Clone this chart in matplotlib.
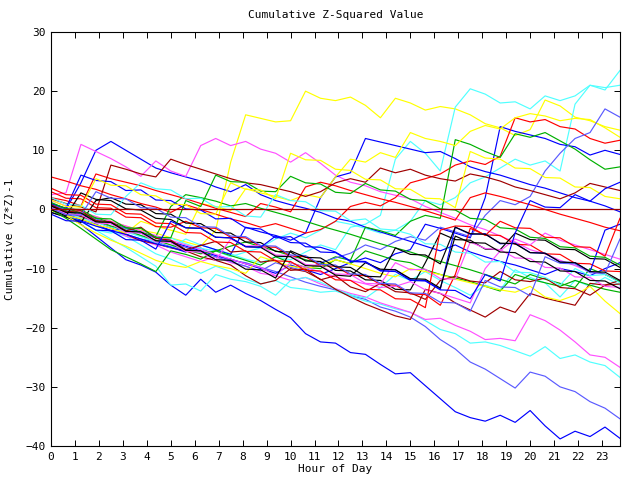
import numpy as np
import matplotlib
matplotlib.use('Agg')
import matplotlib.pyplot as plt

plt.rcParams['font.family'] = ['DejaVu Sans Mono']

# one point every 37.5 minutes, 0h .. 23.75h
hours = np.linspace(0, 23.75, 39)

# gnuplot-ish palette
RED, GREEN, BLUE, MAG, CYAN = '#ff0000', '#00b000', '#0000ff', '#ff50ff', '#50ffff'
DRED, YEL, BLK, MBLUE = '#a00000', '#ffff00', '#000000', '#5a5aff'

days = [
    (BLUE, [0, -1.0, -2.5, -4.5, -6.5, -8.5, -9.4, -10.6, -12.8, -14.5, -11.8, -14.0, -12.8, -14.2, -15.4, -16.9,
            -18.3, -21.0, -22.4, -22.6, -24.2, -24.5, -26.2, -27.8, -27.6, -29.8, -32.0, -34.2, -35.2, -35.8,
            -34.8, -36.0, -34.0, -36.6, -38.8, -37.5, -38.4, -36.8, -38.7]),
    (MBLUE, [0, -0.8, -1.5, -2.8, -3.5, -4.2, -5.0, -5.5, -6.3, -7.0, -6.5, -7.8, -8.6, -9.0, -9.8, -10.5,
             -11.4, -12.3, -13.0, -13.6, -14.6, -15.2, -16.5, -17.2, -18.2, -19.8, -22.0, -23.6, -25.8, -27.0,
             -28.6, -30.2, -27.5, -28.2, -30.0, -30.8, -32.5, -33.6, -35.4]),
    (CYAN, [0.5, -0.5, -1.5, -2.5, -3.8, -4.5, -6.0, -7.5, -8.4, -9.5, -10.8, -9.6, -10.5, -11.8, -12.6, -12.0,
            -13.2, -13.5, -14.0, -13.8, -14.6, -15.5, -16.0, -16.8, -17.4, -18.8, -20.3, -21.0, -22.6, -22.4,
            -23.0, -23.9, -24.8, -23.2, -25.2, -24.6, -25.8, -26.4, -28.4]),
    (MAG, [0.8, -0.3, -1.6, -2.0, -3.2, -4.5, -5.2, -6.0, -7.2, -8.0, -8.8, -8.0, -9.0, -9.6, -10.8, -11.2,
           -12.0, -11.5, -12.6, -13.4, -14.2, -14.8, -15.8, -16.6, -17.4, -18.6, -18.4, -19.6, -20.6, -22.0,
           -21.8, -22.2, -17.8, -18.8, -20.4, -22.4, -24.6, -25.0, -26.7]),
    (CYAN, [0.3, -0.8, -2.0, -3.5, -5.0, -6.4, -8.0, -9.6, -12.8, -12.6, -13.8, -11.0, -11.8, -12.2, -13.0, -14.5,
            -12.0, -11.5, -12.3, -13.5, -14.4, -15.0, -13.2, -11.0, -12.0, -10.5, -12.0, -13.2, -14.5, -12.8,
            -13.6, -10.2, -11.5, -12.4, -14.8, -12.0, -13.0, -11.5, -12.8]),
    (DRED, [0.5, -0.5, -1.2, -2.0, -3.0, -4.2, -5.3, -5.8, -6.5, -7.0, -8.0, -8.6, -9.4, -11.2, -12.6, -12.0,
            -10.0, -10.5, -11.8, -13.5, -14.8, -16.0, -17.0, -18.0, -18.6, -13.5, -14.2, -15.8, -17.0, -18.2,
            -16.5, -17.4, -14.2, -15.0, -15.6, -16.2, -12.5, -12.8, -12.0]),
    (YEL, [1.0, 0.2, -0.5, -1.2, -2.0, -2.8, -3.5, -4.0, -4.8, -5.5, -6.2, -3.5, 8.0, 16.0, 15.4, 14.8, 15.0,
           20.0, 18.8, 18.4, 19.0, 17.6, 15.5, 18.8, 18.0, 16.8, 17.4, 17.0, 16.0, 14.5, 13.8, 12.5, 13.5,
           18.5, 17.5, 15.6, 15.0, 14.0, 13.4]),
    (CYAN, [0.0, -1.0, -2.0, -3.5, -4.0, -3.2, -4.5, -5.6, -6.5, -5.0, -6.0, -6.8, -7.5, -8.4, -9.0, -8.0,
            -8.5, -7.2, -6.0, -6.8, -3.0, -2.5, -1.0, 8.5, 11.5, 9.5, 6.5, 17.3, 20.4, 19.5, 18.0, 18.2, 17.0,
            19.2, 18.4, 19.2, 21.0, 20.2, 23.5]),
    (CYAN, [0.5, -0.4, -1.5, -2.2, -3.0, -3.8, -4.6, -5.5, -4.8, -5.8, -6.6, -7.0, -8.0, -7.2, -6.5, -5.0,
            -4.0, -4.8, -3.5, -2.0, -2.5, -3.2, -4.0, -3.5, -2.0, 1.5, 0.8, 2.0, 4.5, 5.5, 7.0, 8.5, 7.5, 8.2,
            6.5, 17.8, 21.0, 20.6, 21.0]),
    (BLUE, [0.5, 0.0, 4.5, 10.0, 11.5, 10.0, 8.5, 7.0, 6.2, 5.5, 4.8, 3.8, 3.0, 4.2, 2.5, 1.5, 0.8, 0.2, -0.5,
            -1.5, -2.0, -3.0, -3.8, -4.6, -5.4, -6.2, -7.0, -6.0, -7.2, -8.0, -8.8, -9.4, -10.2, -11.0, -10.0,
            -10.5, -11.2, -10.0, -9.0]),
    (MAG, [2.5, 2.8, 11.0, 9.8, 8.6, 7.2, 5.6, 8.2, 6.5, 5.6, 10.8, 12.0, 10.8, 11.5, 10.2, 9.5, 8.0, 9.6, 7.8,
           5.8, 4.6, 4.0, 3.0, 2.4, 1.8, 0.5, -0.5, -1.5, -2.6, -3.4, -4.5, -5.5, -6.8, -7.5, -8.6, -9.5,
           -10.5, -11.0, -12.0]),
    (BLUE, [0.0, -0.8, -1.8, -2.5, -3.6, -4.2, -5.0, -5.8, -6.4, -7.2, -6.0, -6.8, -7.6, -3.0, -3.8, -4.4,
            -5.2, -4.0, 2.0, 5.5, 6.2, 12.0, 11.4, 10.8, 10.2, 9.6, 9.8, 8.6, 7.2, 6.4, 5.8, 5.0, 4.2, 3.6, 2.8,
            2.0, 1.4, 0.6, -0.4]),
    (BLUE, [-0.5, -1.2, -2.0, -2.8, -3.6, -3.0, -4.0, -4.8, -5.5, -6.2, -7.0, -7.8, -8.4, -9.2, -10.0, -10.8,
            -9.4, -10.2, -11.0, -10.0, -9.0, -8.2, -9.0, -7.5, -6.8, -2.5, -3.2, -4.0, -4.8, 2.0, 14.0, 13.2,
            12.6, 12.0, 11.0, 10.6, 9.2, 10.0, 9.3]),
    (RED, [5.5, 4.8, 4.0, 3.4, 2.5, 1.8, 1.0, 0.4, -0.5, 0.8, 0.0, -0.8, -1.6, -2.2, -3.0, -2.4, -3.2, -4.0,
           -3.4, -2.0, 0.5, 1.2, 0.6, 2.0, 4.5, 5.2, 6.0, 7.5, 8.2, 7.6, 9.0, 15.5, 14.8, 15.2, 14.0, 13.6,
           12.0, 11.2, 11.7]),
    (GREEN, [0.5, -0.2, -1.0, -1.8, -2.8, -3.5, -4.4, -5.2, -6.0, -6.8, -7.5, -7.0, -6.2, -5.5, -6.3, -7.0,
             -7.8, -8.5, -9.2, -8.0, -8.6, -3.0, -3.6, -4.4, -2.0, -1.0, -1.5, 11.8, 11.0, 9.8, 8.8, 12.8,
             12.2, 13.0, 11.6, 10.2, 8.4, 6.8, 7.2]),
    (YEL, [-0.2, -1.0, -1.6, -2.6, -3.2, -4.0, -2.0, -2.8, -3.5, -4.2, 1.0, 0.5, -0.2, 3.5, 2.8, 2.2, 1.5,
           2.5, 2.0, 5.5, 8.5, 8.0, 9.6, 8.8, 13.0, 12.0, 11.5, 10.8, 13.2, 14.2, 13.6, 15.5, 16.2, 15.8,
           15.0, 15.4, 15.2, 13.8, 12.2]),
    (MBLUE, [0.8, 0.0, -0.8, -1.6, -2.4, -3.2, -4.0, -4.8, -5.6, -6.4, -7.2, -8.0, -8.8, -9.6, -10.4, -9.0,
             -9.8, -10.4, -9.0, -8.2, -7.4, -6.0, -6.8, -5.4, -4.6, -5.2, -3.0, -3.8, -4.6, -1.0, 1.5, 0.8,
             2.2, 6.5, 9.5, 12.0, 13.0, 17.0, 15.6]),
    (RED, [3.0, 1.9, 1.8, 0.3, 0.2, -1.3, -1.4, -2.9, -3.0, -2.0, -3.1, -3.2, -4.7, -4.8, -6.3, -6.4, -7.9,
           -8.0, -9.5, -9.6, -11.1, -11.2, -12.7, -12.8, -14.3, -14.4, -16.2, -11.0, -3.2, -4.3, -4.4, -5.9,
           -6.0, -7.5, -7.6, -9.1, -9.2, -10.4, -10.5]),
    (BLK, [-0.5, -1.3, -2.2, 1.5, 2.0, 0.9, 0.8, -0.7, -0.8, -2.3, -2.4, -3.9, -4.0, -5.5, -5.6, -7.1, -7.2,
           -8.7, -8.8, -10.3, -10.4, -11.9, -12.0, -13.5, -13.6, -9.0, -4.0, -5.1, -5.2, -6.7, -6.8, -4.0,
           -5.1, -5.2, -6.7, -6.8, -8.3, -8.4, -9.8]),
    (GREEN, [1.0, 0.2, -0.6, -1.4, -2.2, -3.0, -3.8, -4.6, 0.5, 2.5, 2.0, 1.4, 0.6, 1.0, 0.2, -0.5, -1.2,
             -2.0, -2.8, -3.5, -4.2, -5.0, -5.8, -6.5, -7.2, -8.0, -8.8, -9.5, -10.2, -11.0, -11.8, -12.6,
             -11.0, -11.8, -12.5, -13.2, -10.0, -11.0, -12.2]),
    (GREEN, [0.0, -1.5, -3.2, -5.0, -6.8, -8.0, -9.2, -10.5, -7.0, -7.6, -8.4, -7.0, -7.8, -8.6, -9.4, -8.0,
             -9.0, -9.8, -10.0, -8.5, -9.2, -7.0, -7.8, -8.6, -9.0, -10.2, -11.0, -11.6, -12.2, -13.0, -13.8,
             -11.0, -11.8, -12.4, -13.0, -12.0, -12.8, -13.5, -14.0]),
    (YEL, [0.2, -1.0, -2.6, -4.0, -5.2, -6.2, -7.4, -8.6, -9.4, -9.8, -8.8, -9.5, -10.0, -10.8, -8.0, -8.8,
           -9.6, -10.0, -9.5, -8.5, -9.2, -10.0, -10.8, -11.4, -10.0, -10.5, -11.0, -11.8, -12.4, -13.0,
           -13.6, -14.0, -13.0, -14.8, -15.4, -14.5, -13.0, -15.5, -17.6]),
    (MAG, [1.5, 0.6, -0.4, -1.2, -2.0, -2.8, -3.6, -4.4, -5.2, -6.0, -6.8, -7.6, -8.4, -9.2, -9.8, -11.2,
           -9.0, -9.8, -10.6, -11.4, -12.0, -12.6, -13.2, -13.0, -12.2, -13.6, -14.2, -15.0, -15.8, -10.0,
           -7.0, -5.0, -6.0, -4.0, -5.2, -6.0, -6.8, -7.6, -8.4]),
    (RED, [2.0, 1.5, 0.6, 6.0, 5.2, 4.6, 4.0, 3.2, 2.5, 1.8, 1.0, 0.2, -0.5, -1.2, 1.0, 0.4, -0.4, 3.8, 4.6,
           4.0, 3.2, 2.5, 1.8, 1.2, 0.5, -0.2, -1.0, -1.8, 2.0, 2.8, 2.2, 1.5, 0.8, 0.0, -0.8, -1.5, -2.2,
           -3.0, -3.6]),
    (DRED, [1.8, 1.0, 0.4, -0.4, 7.5, 6.8, 6.0, 5.5, 8.5, 7.6, 6.8, 6.0, 5.2, 4.5, 4.2, 3.6, 3.0, 2.2, 3.0,
            4.5, 5.2, 4.6, 7.0, 6.2, 6.8, 5.8, 5.2, 4.8, 6.0, 5.5, 4.8, 3.8, 3.2, 2.5, 1.8, 2.8, 4.4, 3.8,
            3.2]),
    (DRED, [0.8, -0.4, -0.2, -1.9, -2.1, -3.6, -3.0, -4.9, -5.2, -6.8, -6.1, -5.4, -7.2, -7.0, -8.9, -8.6,
            -10.3, -10.1, -11.9, -11.2, -13.1, -13.9, -12.5, -13.9, -14.1, -15.2, -12.0, -11.3, -12.1, -12.4,
            -10.5, -11.9, -12.2, -11.6, -13.2, -13.4, -14.5, -12.8, -12.6]),
    (CYAN, [2.0, 0.9, 0.7, -0.8, -0.9, 2.2, 4.5, 3.5, 3.3, 1.8, 1.9, 0.4, 0.5, -1.1, -1.3, 2.5, 1.5, 1.3,
            -0.2, -0.3, -1.9, -1.6, -3.3, -3.5, -4.2, -5.8, -5.9, -7.2, -7.4, -8.9, -8.8, -10.6, -10.7, -11.5,
            -12.8, -10.0, -11.2, -11.0, -12.4]),
    (BLUE, [1.0, 0.2, 5.8, 4.9, 4.7, 3.2, 3.3, 1.6, 1.5, 0.1, -0.1, -1.6, -1.5, -3.1, -3.3, -4.8, -4.6, -6.3,
            -6.4, -7.2, -8.7, -8.8, -10.3, -10.2, -11.9, -12.0, -13.5, -3.0, -4.2, -4.1, -5.8, -5.7, -7.3,
            -7.4, -8.9, -9.0, -10.5, -3.5, -2.5]),
    (MAG, [0.4, -0.7, -0.9, -2.3, -2.4, -3.9, -4.0, -5.5, -5.6, -7.1, -7.2, -8.6, -5.0, -6.2, -6.1, -7.7,
           -7.8, -9.3, -9.5, -10.9, -11.0, -12.5, -12.6, -9.0, -10.2, -10.1, -11.7, -11.8, -5.5, -6.6, -6.8,
           -8.2, -8.3, -9.8, -9.9, -11.4, -11.5, -13.0, -13.2]),
    (BLK, [0.0, -1.1, 2.8, 1.7, 1.5, 0.1, -0.1, -1.5, -1.7, -3.1, -3.2, -4.7, -4.8, -6.3, -6.4, -7.9, -8.0,
           -9.5, -9.6, -11.1, -11.3, -9.0, -10.1, -10.2, -11.7, -11.8, -13.3, -4.5, -5.6, -5.7, -7.2, -7.3,
           -8.8, -8.9, -10.4, -10.5, -12.0, -12.1, -13.4]),
    (GREEN, [1.2, 0.1, 0.0, -1.5, -1.6, -3.1, -3.2, -4.7, -4.8, 1.5, 0.5, 5.8, 4.7, 4.6, 3.1, 3.0, 5.6, 4.5,
             4.3, 2.9, 2.7, 4.4, 3.3, 3.1, 1.7, 1.5, 0.1, -0.1, -1.5, -1.7, -3.1, -3.3, -4.7, -4.9, -6.3, -6.5,
             -7.9, -8.1, -9.4]),
    (RED, [3.6, 2.5, 2.4, 0.9, 0.8, -0.7, -0.8, -2.3, -2.4, -3.9, -4.0, -5.5, -5.6, -7.1, -7.2, -8.7, -8.8,
           -10.3, -10.4, -11.9, -12.0, -13.5, -13.6, -15.1, -15.2, -16.6, -3.5, -2.8, -2.9, -4.4, -2.0, -3.1,
           -3.2, -4.7, -4.8, -6.3, -6.4, -7.9, -1.5]),
    (YEL, [1.6, 0.5, 0.4, 5.2, 4.1, 4.0, 2.5, 2.3, 0.9, 0.8, -0.7, -0.8, 4.5, 3.4, 3.3, 1.8, 9.5, 8.4, 8.3,
           6.8, 6.6, 5.1, 5.0, 3.5, 3.4, 1.9, 1.8, 0.3, 9.8, 8.7, 8.5, 7.0, 6.9, 5.4, 5.3, 3.8, 3.7, 2.2, 1.8]),
    (MBLUE, [0.2, -0.9, -1.0, 3.0, 1.9, 1.8, 0.3, 0.2, -1.3, -1.4, -2.9, -3.0, -4.5, -4.6, -6.1, -6.2, -7.7,
             -7.8, -9.3, -9.4, -10.9, -11.0, -12.5, -12.6, -14.1, -14.2, -15.7, -15.8, -17.2, -12.0, -13.1,
             -13.2, -14.6, -8.0, -9.1, -9.2, -10.7, -10.8, -5.0]),
    (BLK, [0.6, -0.5, -0.6, -2.1, -2.2, -3.7, -3.8, -5.3, -5.4, -6.9, -7.0, -8.5, -8.6, -10.1, -10.2, -11.6,
           -7.0, -8.1, -8.2, -9.7, -9.8, -11.3, -11.4, -6.5, -7.6, -7.7, -9.2, -3.0, -4.1, -4.2, -5.7, -5.8,
           -7.3, -7.4, -8.9, -9.0, -10.5, -10.6, -12.0]),
    (BLUE, [-0.8, -1.9, -2.0, -3.5, -3.6, -5.1, -5.2, -6.7, -2.0, -3.1, -3.2, -4.7, -4.8, -6.3, -6.4, -4.5,
            -5.6, -5.7, -7.2, -7.3, -8.8, -8.9, -10.4, -10.5, -12.0, -12.1, -13.6, -13.7, -15.1, -11.0, -12.1,
            -4.0, 1.5, 0.4, 0.3, 2.5, 1.4, 3.5, 4.6]),
]

fig = plt.figure(figsize=(6.4, 4.8), dpi=100)
ax = fig.add_axes([0.0797, 0.0708, 0.889, 0.8625])

for col, vals in days:
    ax.plot(hours, vals, color=col, lw=0.85)

# zero line
ax.axhline(0, color='#a00000', lw=0.9, zorder=5)

ax.set_xlim(0, 23.75)
ax.set_ylim(-40, 30)
ax.set_xticks(range(24))
ax.set_yticks(range(-40, 31, 10))
ax.tick_params(direction='in', length=4, width=0.7, top=True, right=True, labelsize=8, pad=4)
for s in ax.spines.values():
    s.set_linewidth(0.8)

ax.set_title('Cumulative Z-Squared Value', fontsize=8, pad=10)
ax.set_xlabel('Hour of Day', fontsize=8, labelpad=2)
ax.set_ylabel('Cumulative (Z*Z)-1', fontsize=8, labelpad=8)

fig.savefig('out.png', dpi=100)
